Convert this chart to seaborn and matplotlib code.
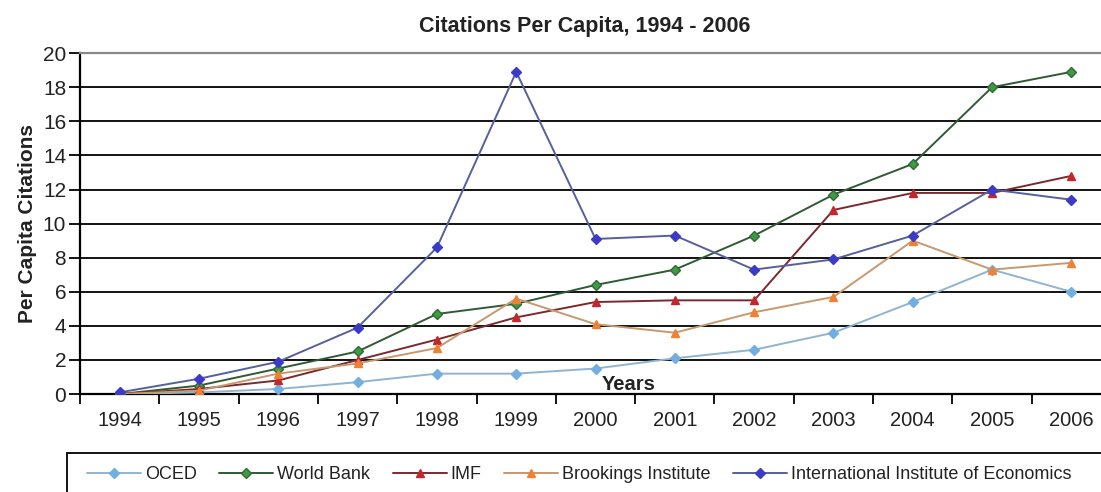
import pandas as pd
import matplotlib
matplotlib.use("Agg")
import matplotlib.pyplot as plt
from matplotlib.patches import Rectangle
import seaborn as sns

years = ["1994", "1995", "1996", "1997", "1998", "1999", "2000",
         "2001", "2002", "2003", "2004", "2005", "2006"]
oced = [0.0, 0.1, 0.3, 0.7, 1.2, 1.2, 1.5, 2.1, 2.6, 3.6, 5.4, 7.3, 6.0]
world_bank = [0.0, 0.5, 1.5, 2.5, 4.7, 5.3, 6.4, 7.3, 9.3, 11.7, 13.5, 18.0, 18.9]
imf = [0.0, 0.3, 0.8, 2.0, 3.2, 4.5, 5.4, 5.5, 5.5, 10.8, 11.8, 11.8, 12.8]
brookings = [0.0, 0.2, 1.2, 1.8, 2.7, 5.6, 4.1, 3.6, 4.8, 5.7, 9.0, 7.3, 7.7]
iie = [0.1, 0.9, 1.9, 3.9, 8.6, 18.9, 9.1, 9.3, 7.3, 7.9, 9.3, 12.0, 11.4]

names = ["OCED", "World Bank", "IMF", "Brookings Institute",
         "International Institute of Economics"]
series = [oced, world_bank, imf, brookings, iie]
line_colors = ["#8fb4d2", "#2f5a34", "#7a2a2e", "#c8986e", "#55609c"]
marker_colors = ["#72aee0", "#3f9a44", "#c3262c", "#ee8132", "#3b3bc8"]
marker_edges = ["#72aee0", "#2f6a34", "#c3262c", "#ee8132", "#3b3bc8"]
markers = ["D", "D", "^", "^", "D"]
msizes = [6.5, 6.5, 8.5, 8.5, 6.5]

rows = []
for name, vals in zip(names, series):
    for y, v in zip(years, vals):
        rows.append({"Year": y, "Citations": v, "Series": name})
df = pd.DataFrame(rows)

sns.set_style("white")
plt.rcParams["font.family"] = ["Liberation Sans", "DejaVu Sans"]

fig = plt.figure(figsize=(11.01, 4.92), dpi=100)
ax = fig.add_axes([0.0727, 0.199, 0.9364, 0.693])

for i, name in enumerate(names):
    sub = df[df["Series"] == name]
    sns.lineplot(data=sub, x="Year", y="Citations", ax=ax, color=line_colors[i],
                 marker=markers[i], markersize=msizes[i],
                 markerfacecolor=marker_colors[i], markeredgecolor=marker_edges[i],
                 markeredgewidth=1, linewidth=1.4, label=name, zorder=3 + i)

ax.set_xlim(-0.5, 12.5)
ax.set_ylim(0, 20)
ax.set_yticks(range(0, 21, 2))
ax.yaxis.grid(True, color="black", linewidth=1.3, zorder=1)
ax.set_axisbelow(True)
ax.set_xticks([i + 0.5 for i in range(-1, 13)], minor=False)
ax.set_xticklabels([])
ax.set_xticks(range(13), minor=True)
ax.set_xticklabels(years, minor=True)
ax.tick_params(axis="x", which="major", length=7, width=1.3, direction="out",
               color="black", bottom=True)
ax.tick_params(axis="x", which="minor", length=0, labelsize=14.5, pad=12,
               labelcolor="#222222")
ax.tick_params(axis="y", length=8, width=1.3, direction="out", color="black",
               left=True, labelsize=15, labelcolor="#222222", pad=2)

for side in ["left", "bottom"]:
    ax.spines[side].set_color("black")
    ax.spines[side].set_linewidth(1.6)
ax.spines["top"].set_color("#888888")
ax.spines["top"].set_linewidth(1.6)
ax.spines["right"].set_visible(False)

ax.set_xlabel("")
ax.set_ylabel("Per Capita Citations", fontsize=15, fontweight="bold",
              color="#222222", labelpad=4)
ax.text(6.42, 0.23, "Years", fontsize=14.5, fontweight="bold", color="#222222",
        va="baseline", ha="center")
fig.text(0.531, 0.947, "Citations Per Capita, 1994 - 2006", fontsize=15.5,
         fontweight="bold", ha="center", va="center", color="#222222")

# legend box drawn by hand so the entries can sit further in
fig.patches.append(Rectangle((67 / 1101, -0.05), 1.0, 0.05 + (492 - 453) / 492,
                             transform=fig.transFigure, fill=False,
                             edgecolor="black", linewidth=1.3))

handles, labels = ax.get_legend_handles_labels()
ax.legend_.remove()
for h in handles:
    h.set_markersize(5.5)
leg = fig.legend(handles, labels, ncol=5, loc="center left",
                 bbox_to_anchor=(0.0725, 0.035), borderaxespad=0,
                 fontsize=13, frameon=False, handlelength=3.0,
                 columnspacing=1.25, handletextpad=0.2,
                 labelcolor="#222222")

fig.savefig("out.png", dpi=100)
